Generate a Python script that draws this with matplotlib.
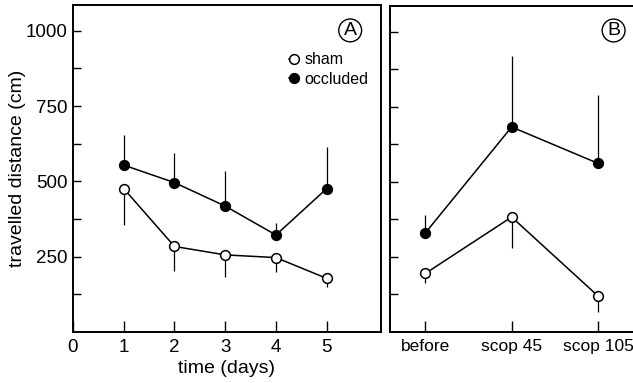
import matplotlib
matplotlib.use('Agg')
import matplotlib.pyplot as plt
import numpy as np

plt.rcParams['font.family'] = ['Liberation Sans', 'DejaVu Sans']

# panel A: days
days = [1, 2, 3, 4, 5]
occl_a = [554, 496, 418, 322, 476]
occl_a_err = [99, 99, 116, 39, 137]   # upward SEM
sham_a = [476, 284, 256, 247, 178]
sham_a_err = [121, 81, 73, 49, 30]    # downward SEM

# panel B: scopolamine
conds = ['before', 'scop 45', 'scop 105']
occl_b = [330, 683, 562]
occl_b_err = [61, 237, 226]
sham_b = [195, 383, 120]
sham_b_err = [33, 103, 55]

fig = plt.figure(figsize=(6.33, 3.83), dpi=100)
axA = fig.add_axes([0.1153, 0.1332, 0.4866, 0.854])
axB = fig.add_axes([0.616, 0.1332, 0.39, 0.851])

mk = dict(ms=7, mew=1.1, lw=1.1, color='black', zorder=3)


def draw(ax, x, occ, occ_e, sh, sh_e):
    x = np.asarray(x, dtype=float)
    ax.errorbar(x, occ, yerr=[np.zeros(len(occ)), occ_e], fmt='none', ecolor='black',
                elinewidth=0.9, capsize=0, zorder=2)
    ax.errorbar(x, sh, yerr=[sh_e, np.zeros(len(sh))], fmt='none', ecolor='black',
                elinewidth=0.9, capsize=0, zorder=2)
    ax.plot(x, occ, 'o-', mfc='black', mec='black', label='occluded', **mk)
    ax.plot(x, sh, 'o-', mfc='white', mec='black', label='sham', **mk)


draw(axA, days, occl_a, occl_a_err, sham_a, sham_a_err)
draw(axB, range(len(conds)), occl_b, occl_b_err, sham_b, sham_b_err)

for ax in (axA, axB):
    ax.set_ylim(0, 1086)
    ax.set_yticks([250, 500, 750, 1000])
    ax.set_yticks([125, 375, 625, 875], minor=True)
    ax.tick_params(axis='both', which='both', direction='in', length=6, width=1.0,
                   labelsize=13.5, colors='black')
    for s in ax.spines.values():
        s.set_linewidth(1.4)

axA.set_xlim(0, 6.07)
axA.set_xticks([0, 1, 2, 3, 4, 5])
axA.tick_params(axis='x', length=8, pad=5)
axA.tick_params(axis='y', pad=4)
axA.set_ylabel('travelled distance (cm)', fontsize=14, labelpad=0)
axA.set_xlabel('time (days)', fontsize=14, labelpad=3)

axB.set_xlim(-0.41, 2.45)
axB.set_xticks(range(len(conds)))
axB.set_xticklabels(conds, fontsize=12.5)
axB.tick_params(axis='x', length=8, pad=5)
axB.tick_params(axis='y', labelleft=False)
axB.spines['right'].set_visible(False)

h = axA.get_legend_handles_labels()
axA.legend(h[0][::-1], h[1][::-1], loc='upper left', bbox_to_anchor=(0.675, 0.88),
           frameon=False, fontsize=11.5, handlelength=0.6, handletextpad=0.4,
           labelspacing=0.3, borderpad=0, numpoints=1)

circ = dict(boxstyle='circle,pad=0.15', fc='white', ec='black', lw=1.0)
axA.text(0.9, 0.922, 'A', transform=axA.transAxes, ha='center', va='center',
         fontsize=14, bbox=circ)
axB.text(0.906, 0.925, 'B', transform=axB.transAxes, ha='center', va='center',
         fontsize=14, bbox=circ)

fig.savefig('out.png', dpi=100)
